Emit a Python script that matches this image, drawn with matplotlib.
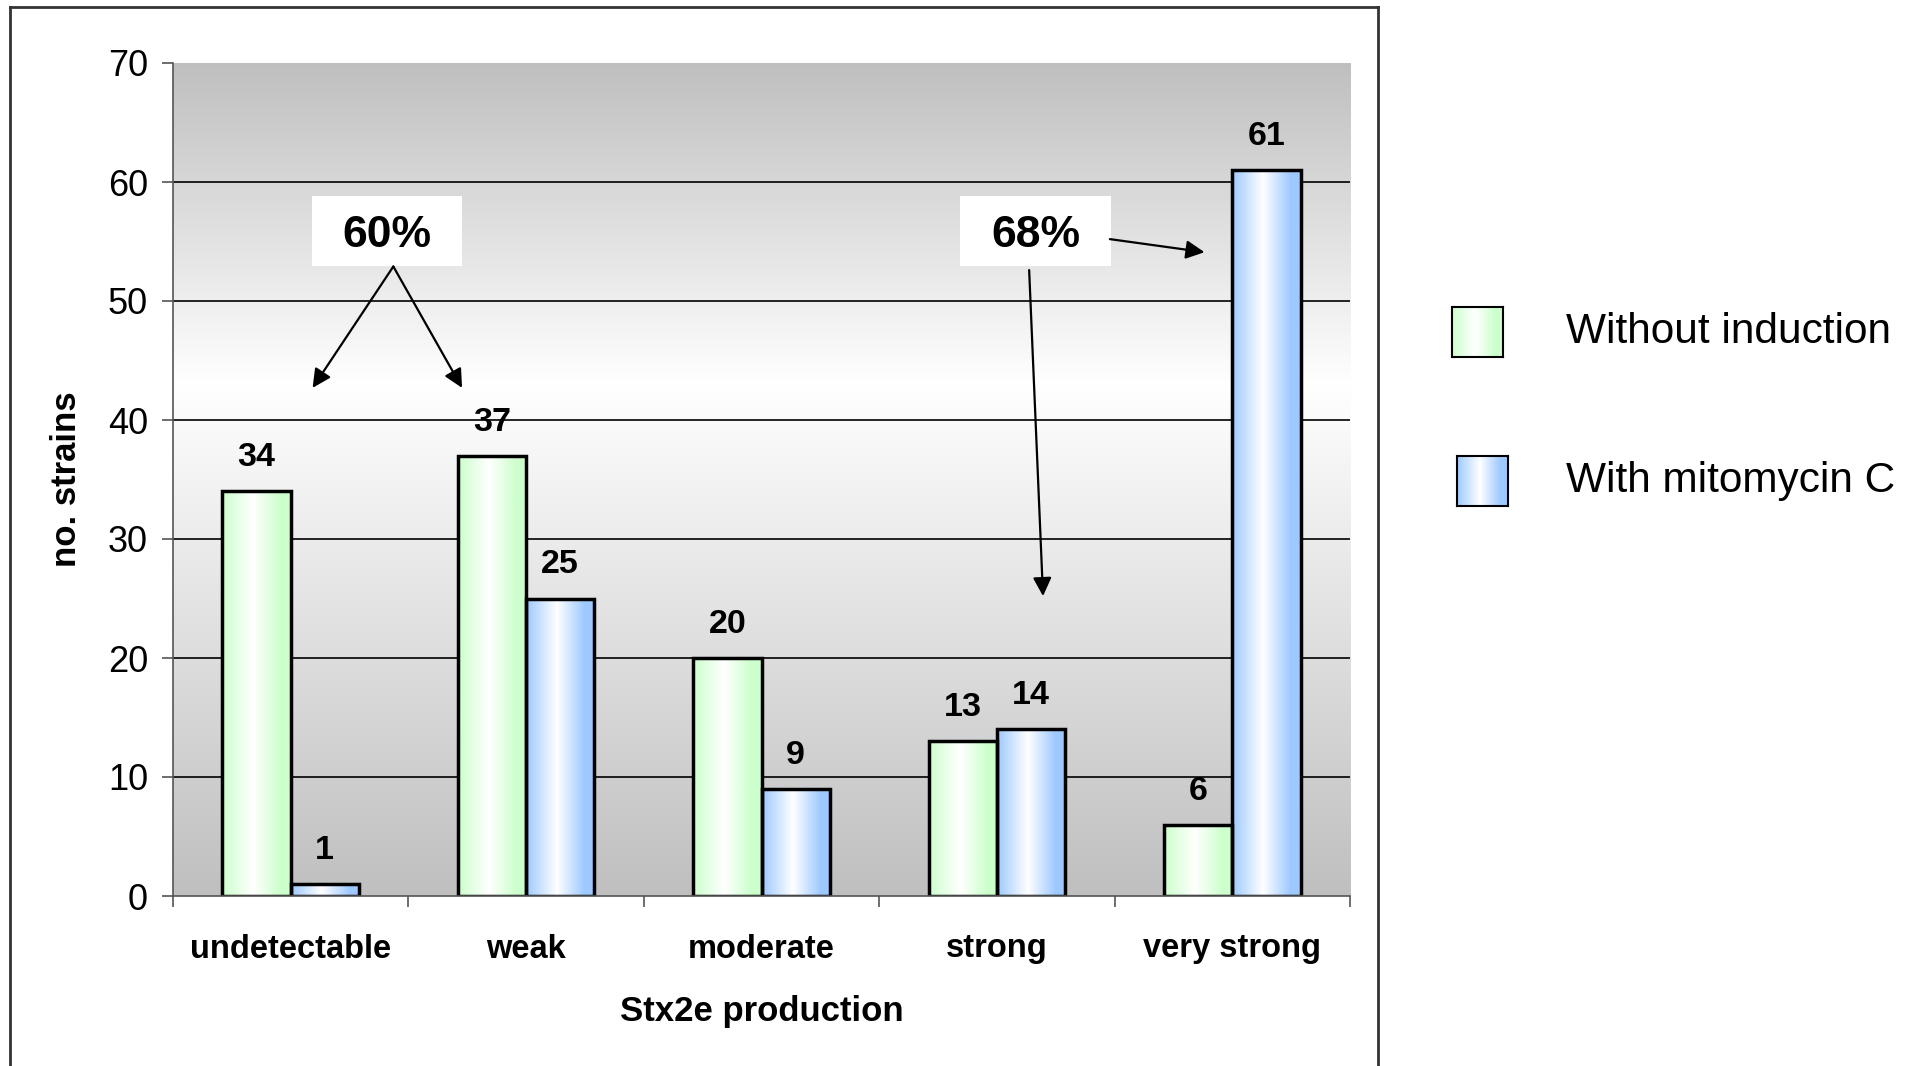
import numpy as np
import matplotlib
matplotlib.use("Agg")
import matplotlib.pyplot as plt
from matplotlib.patches import Rectangle
from matplotlib.lines import Line2D

plt.rcParams['font.family'] = ['Liberation Sans', 'DejaVu Sans']

categories = ["undetectable", "weak", "moderate", "strong", "very strong"]
without_induction = [34, 37, 20, 13, 6]
with_mitomycin = [1, 25, 9, 14, 61]
series_names = ["Without induction", "With mitomycin C"]

GREEN = np.array([0.80, 1.00, 0.80])
BLUE = np.array([0.62, 0.79, 1.00])
BAR_W = 0.29


def bar_gradient(edge):
    # edge colour -> white a bit left of centre -> edge colour
    t = np.linspace(0, 1, 200)
    k = np.interp(t, [0, 0.45, 0.85, 1], [0, 1, 0, 0])
    rgb = edge[None, :] + (1 - edge[None, :]) * k[:, None]
    return rgb[None, :, :]


def back_gradient():
    v = np.linspace(70, 0, 400)
    g = np.interp(v, [0, 43, 70], [0.75, 1.0, 0.75])
    return np.repeat(g[:, None, None], 3, axis=2)


def fill_bars(ax, bars, edge):
    img = bar_gradient(edge)
    for b in bars:
        x, y = b.get_x(), b.get_y()
        w, h = b.get_width(), b.get_height()
        ax.imshow(img, extent=(x, x + w, y, y + h), aspect='auto',
                  interpolation='bilinear', zorder=2)


fig = plt.figure(figsize=(19.19, 10.66), dpi=100)
ax = fig.add_axes([173 / 1919, 1 - 896 / 1066, 1177 / 1919, 833 / 1066])

x = np.arange(len(categories))
ax.imshow(back_gradient(), extent=(-0.5, 4.5, 0, 70), aspect='auto',
          interpolation='bilinear', zorder=0)
for yv in range(10, 70, 10):
    ax.axhline(yv, color='black', lw=1.2, zorder=1)

b1 = ax.bar(x - BAR_W, without_induction, BAR_W, align='edge',
            facecolor='none', edgecolor='black', lw=2.5, zorder=3)
b2 = ax.bar(x, with_mitomycin, BAR_W, align='edge',
            facecolor='none', edgecolor='black', lw=2.5, zorder=3)
fill_bars(ax, b1, GREEN)
fill_bars(ax, b2, BLUE)

for bars, vals in ((b1, without_induction), (b2, with_mitomycin)):
    for b, v in zip(bars, vals):
        ax.annotate(str(v), (b.get_x() + b.get_width() / 2, v),
                    xytext=(0, 13), textcoords='offset points',
                    ha='center', va='bottom', fontsize=24.5,
                    fontweight='bold', zorder=5)

ax.set_xlim(-0.5, 4.5)
ax.set_ylim(0, 70)
ax.set_yticks(range(0, 71, 10))
ax.tick_params(axis='y', labelsize=26, length=8, width=1.2, pad=10,
               color='#555555')
ax.set_xticks(x)
ax.set_xticklabels(categories, fontsize=23.5, fontweight='bold')
ax.tick_params(axis='x', length=0, pad=27)
ax.set_xticks(np.arange(-0.5, 5, 1), minor=True)
ax.tick_params(axis='x', which='minor', length=8, width=1.2,
               color='#555555')
for s in ('top', 'right'):
    ax.spines[s].set_visible(False)
for s in ('left', 'bottom'):
    ax.spines[s].set_color('#555555')
    ax.spines[s].set_linewidth(1.2)
    ax.spines[s].set_zorder(4)

ax.set_xlabel("Stx2e production", fontsize=25, fontweight='bold',
              labelpad=22)
ax.set_ylabel("no. strains", fontsize=25, fontweight='bold', labelpad=18)

# percentage call-outs
arrow = dict(arrowstyle='-|>', lw=1.6, color='black', mutation_scale=28,
             shrinkA=0, shrinkB=0)
ax.add_patch(Rectangle((0.092, 52.9), 0.635, 5.9, fc='white', ec='none',
                       zorder=5))
ax.text(0.41, 55.5, "60%", ha='center', va='center', fontsize=32,
        fontweight='bold', zorder=6)
ax.annotate("", xy=(0.093, 42.7), xytext=(0.436, 52.9),
            arrowprops=arrow, zorder=6)
ax.annotate("", xy=(0.728, 42.7), xytext=(0.436, 52.9),
            arrowprops=arrow, zorder=6)

ax.add_patch(Rectangle((2.843, 52.9), 0.64, 5.9, fc='white', ec='none',
                       zorder=5))
ax.text(3.164, 55.5, "68%", ha='center', va='center', fontsize=32,
        fontweight='bold', zorder=6)
ax.annotate("", xy=(3.882, 54.1), xytext=(3.48, 55.2),
            arrowprops=arrow, zorder=6)
ax.annotate("", xy=(3.196, 25.2), xytext=(3.137, 52.6),
            arrowprops=arrow, zorder=6)

# legend swatches drawn as small gradient axes
swatches = [(1452, 307, GREEN), (1457, 456, BLUE)]
for (px, py, col), name in zip(swatches, series_names):
    sa = fig.add_axes([px / 1919, 1 - (py + 50) / 1066, 51 / 1919,
                       50 / 1066])
    sa.imshow(bar_gradient(col), aspect='auto', interpolation='bilinear')
    sa.set_xticks([])
    sa.set_yticks([])
    for s in sa.spines.values():
        s.set_linewidth(1.5)
    fig.text(1566 / 1919, 1 - (py + 25) / 1066, name, fontsize=30.5,
             va='center', ha='left')

# outer chart frame
fx0, fx1, fy1 = 10 / 1919, 1378 / 1919, 1 - 7 / 1066
for xs, ys in (([fx0, fx0], [0, fy1]), ([fx0, fx1], [fy1, fy1]),
               ([fx1, fx1], [fy1, 0])):
    fig.add_artist(Line2D(xs, ys, transform=fig.transFigure,
                          color='#333333', lw=2))

fig.savefig("out.png", dpi=100, facecolor='white')
